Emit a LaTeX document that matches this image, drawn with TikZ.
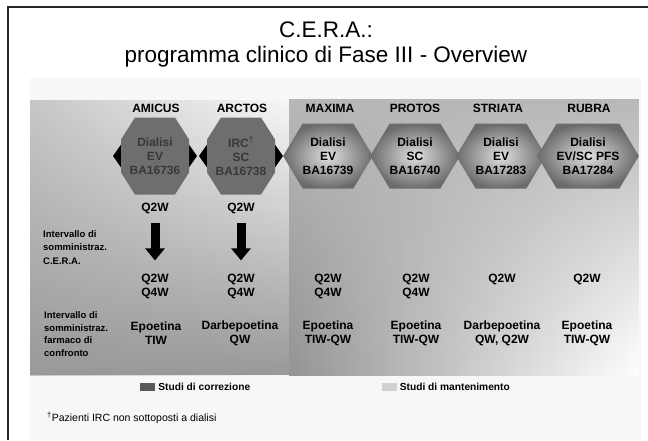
\documentclass[tikz,border=0pt]{standalone}
\usepackage{fontspec}
\setmainfont{Liberation Sans}
\usetikzlibrary{shapes.geometric, shapes.symbols, arrows.meta, positioning, fadings}

\begin{document}
\begin{tikzpicture}[
    x=1pt, y=-1pt,
    title/.style={anchor=base, font=\fontsize{22.5}{23}\selectfont, inner sep=0pt},
    study/.style={font=\fontsize{12}{14}\selectfont\bfseries, inner sep=1pt},
    correction/.style={rectangle, minimum width=68pt, minimum height=77pt, inner sep=0pt, text=black!78, align=center, font=\fontsize{12}{14}\selectfont\bfseries,
        path picture={\fill[black!57] ([xshift=14pt]path picture bounding box.north west) -- ([xshift=-14pt]path picture bounding box.north east)
            -- ([yshift=-22pt]path picture bounding box.north east) -- ([yshift=22pt]path picture bounding box.south east)
            -- ([xshift=-14pt]path picture bounding box.south east) -- ([xshift=14pt]path picture bounding box.south west)
            -- ([yshift=22pt]path picture bounding box.south west) -- ([yshift=-22pt]path picture bounding box.north west) -- cycle;}},
    corrback/.style={signal, signal to=east and west, signal pointer angle=110, minimum width=84pt, minimum height=40pt, inner sep=0pt, fill=black},
    maintenance/.style={signal, signal to=east and west, signal pointer angle=118, minimum width=80pt, minimum height=65pt, inner sep=0pt, inner color=black!12, outer color=black!58, align=center, font=\fontsize{12}{14}\selectfont\bfseries},
    cell/.style={align=center, font=\fontsize{12}{14}\selectfont\bfseries, inner sep=1pt},
    rowlabel/.style={align=left, anchor=west, font=\fontsize{9.5}{12.5}\selectfont\bfseries, inner sep=0pt},
    key/.style={minimum width=15pt, minimum height=8pt, inner sep=0pt},
    legend/.style={font=\fontsize{10.2}{12}\selectfont\bfseries, inner sep=0pt},
    note/.style={anchor=west, font=\fontsize{10.5}{12}\selectfont, inner sep=0pt},
    blockarrow/.style={line width=9pt, -{Triangle[length=12pt, width=19pt]}}
]
\useasboundingbox (0,0) rectangle (648,440);

% Frame and panels
\fill[black!3] (30,78) rectangle (641,440);
\draw[line width=2pt, black!85] (8,440) -- (8,7) -- (648,7);
\shade[left color=black!22, right color=black!3] (30,100) rectangle (289,375);
\fill[black!40, path fading=north] (30,100) rectangle (289,375);
\shade[left color=black!42, middle color=white, right color=white] (289,99) rectangle (639,375);
\fill[black!28, path fading=south] (289,99) rectangle (639,375);

\node[title] (title) at (326,37) {C.E.R.A.:};
\node[title] (subtitle) at (326,62.5) {programma clinico di Fase III - Overview};

% Correction studies
\node[study] (amicushead) at (156,108) {AMICUS};
\node[corrback] (amicusback) at (155,156) {};
\node[correction] (amicus) at (155,156) {Dialisi\\EV\\BA16736};
\node[cell] (amicusq) at (155,208) {Q2W};
\node[cell] (amicuscera) at (155,286) {Q2W\\Q4W};
\node[cell] (amicuscomp) at (156,333.5) {Epoetina\\TIW};

\node[study] (arctoshead) at (242,108) {ARCTOS};
\node[corrback] (arctosback) at (241,156) {};
\node[correction] (arctos) at (241,156) {IRC\textsuperscript{†}\\SC\\BA16738};
\node[cell] (arctosq) at (241,208) {Q2W};
\node[cell] (arctoscera) at (241,286) {Q2W\\Q4W};
\node[cell] (arctoscomp) at (240,333.5) {Darbepoetina\\QW};

% Maintenance studies
\node[study] (maximahead) at (330,108) {MAXIMA};
\node[maintenance] (maxima) at (328,156) {Dialisi\\EV\\BA16739};
\node[cell] (maximacera) at (328,286) {Q2W\\Q4W};
\node[cell] (maximacomp) at (328,333.5) {Epoetina\\TIW-QW};

\node[study] (protoshead) at (415,108) {PROTOS};
\node[maintenance] (protos) at (415,156) {Dialisi\\SC\\BA16740};
\node[cell] (protoscera) at (416,286) {Q2W\\Q4W};
\node[cell] (protoscomp) at (416,333.5) {Epoetina\\TIW-QW};

\node[study] (striatahead) at (498,108) {STRIATA};
\node[maintenance] (striata) at (501,156) {Dialisi\\EV\\BA17283};
\node[cell] (striatacera) at (502,279) {Q2W};
\node[cell] (striatacomp) at (502,333.5) {Darbepoetina\\QW, Q2W};

\node[study] (rubrahead) at (589,108) {RUBRA};
\node[maintenance] (rubra) at (588,156) {Dialisi\\EV/SC PFS\\BA17284};
\node[cell] (rubracera) at (587,279) {Q2W};
\node[cell] (rubracomp) at (587,333.5) {Epoetina\\TIW-QW};

% Row labels
\node[rowlabel] (ceralabel) at (43,248) {Intervallo di\\somministraz.\\[2pt]C.E.R.A.};
\node[rowlabel] (complabel) at (44,334) {Intervallo di\\somministraz.\\farmaco di\\confronto};

% Arrows
\draw[blockarrow, shorten <=8pt, shorten >=12pt] (amicusq) -- (amicuscera);
\draw[blockarrow, shorten <=8pt, shorten >=12pt] (arctosq) -- (arctoscera);

% Legend
\node[key, fill=black!65] (corrkey) at (147.5,387) {};
\node[legend, right=3pt of corrkey] (corrlabel) {Studi di correzione};
\node[key, fill=black!18] (mantkey) at (389,387) {};
\node[legend, right=3pt of mantkey] (mantlabel) {Studi di mantenimento};
\node[note] (footnote) at (47,418) {\textsuperscript{†}Pazienti IRC non sottoposti a dialisi};

\end{tikzpicture}
\end{document}
